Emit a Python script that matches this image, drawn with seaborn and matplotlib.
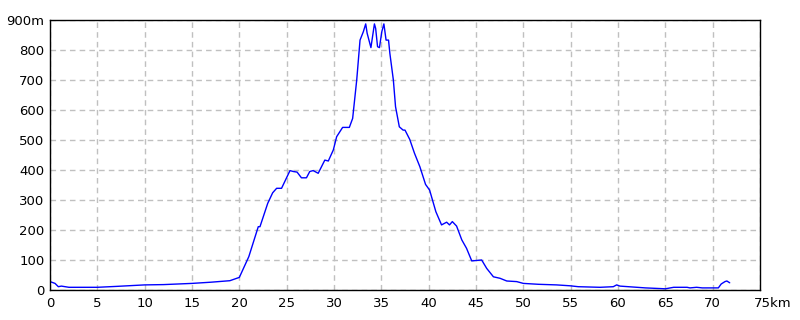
import matplotlib
matplotlib.use("Agg")
import matplotlib.pyplot as plt
import matplotlib.transforms as mtransforms
import seaborn as sns
import pandas as pd

distance_km = [0, 0.53, 0.88, 1.2, 2.0, 5.0, 7.0, 10.0, 12.0, 15.0, 17.0, 19.0, 20.0, 21.0, 22.0, 22.18,
               23.0, 23.52, 23.94, 24.46, 25.35, 25.7, 26.1, 26.56, 27.09, 27.44, 27.8, 28.33, 29.03,
               29.4, 29.93, 30.28, 30.91, 31.62, 31.97, 32.4, 32.75, 33.1, 33.35, 33.5, 33.9, 34.27,
               34.4, 34.6, 34.8, 35.05, 35.27, 35.5, 35.76, 35.9, 36.27, 36.5, 36.9, 37.3, 37.5, 38.0,
               38.5, 39.07, 39.67, 40.1, 40.76, 41.36, 41.9, 42.2, 42.5, 42.95, 43.5, 44.0, 44.55,
               45.6, 46.13, 46.84, 47.54, 48.25, 49.3, 50.0, 51.6, 53.5, 54.95, 55.8, 58.1, 59.5,
               59.86, 60.2, 61.1, 62.9, 65.0, 65.88, 67.3, 67.6, 68.3, 68.9, 70.6, 70.9, 71.3, 71.5, 71.8]
elevation_m = [28, 22, 11, 13, 9, 9, 12, 17, 18, 22, 26, 31, 42, 111, 211, 211,
               289, 324, 339, 339, 398, 395, 393, 374, 374, 395, 398, 389, 433,
               430, 467, 511, 542, 542, 572, 700, 833, 861, 887, 856, 808, 887,
               872, 811, 808, 861, 887, 833, 833, 789, 700, 611, 544, 533, 533, 502,
               456, 411, 352, 333, 261, 217, 226, 217, 228, 213, 167, 139, 97,
               100, 72, 44, 39, 30, 28, 22, 19, 17, 14, 11, 9, 11,
               17, 13, 11, 7, 4, 9, 9, 7, 9, 7, 7, 20, 28, 30, 24]

x_ticks = [0, 5, 10, 15, 20, 25, 30, 35, 40, 45, 50, 55, 60, 65, 70, 75]
x_tick_labels = ["0", "5", "10", "15", "20", "25", "30", "35", "40", "45", "50", "55", "60", "65", "70", "75km"]
y_ticks = [0, 100, 200, 300, 400, 500, 600, 700, 800, 900]
y_tick_labels = ["0", "100", "200", "300", "400", "500", "600", "700", "800", "900m"]

df = pd.DataFrame({"km": distance_km, "m": elevation_m})

sns.set_style("white")
plt.rcParams["font.family"] = ["Liberation Sans Narrow", "DejaVu Sans"]

fig = plt.figure(figsize=(8, 3.2), dpi=100)
ax = fig.add_axes([50 / 800, 30 / 320, 710 / 800, 270 / 320])

sns.lineplot(data=df, x="km", y="m", ax=ax, color="#0000ff", linewidth=1.0, estimator=None, sort=False)

ax.set_xlim(0, 75)
ax.set_ylim(0, 900)
ax.set_xticks(x_ticks)
ax.set_xticklabels(x_tick_labels, fontsize=9.5)
ax.set_yticks(y_ticks)
ax.set_yticklabels(y_tick_labels, fontsize=9.5)
ax.set_xlabel("")
ax.set_ylabel("")
ax.tick_params(length=0, pad=5, colors="black")
ax.tick_params(axis="y", pad=4)

last = ax.get_xticklabels()[-1]
last.set_ha("left")
last.set_transform(last.get_transform() + mtransforms.ScaledTranslation(-6 / 100, 0, fig.dpi_scale_trans))

ax.grid(True, color="#c0c0c0", linestyle=(0, (4, 3)), linewidth=1.0)
for s in ax.spines.values():
    s.set_color("black")
    s.set_linewidth(1.0)
    s.set_visible(True)

fig.savefig("out.png", dpi=100, facecolor="white")
